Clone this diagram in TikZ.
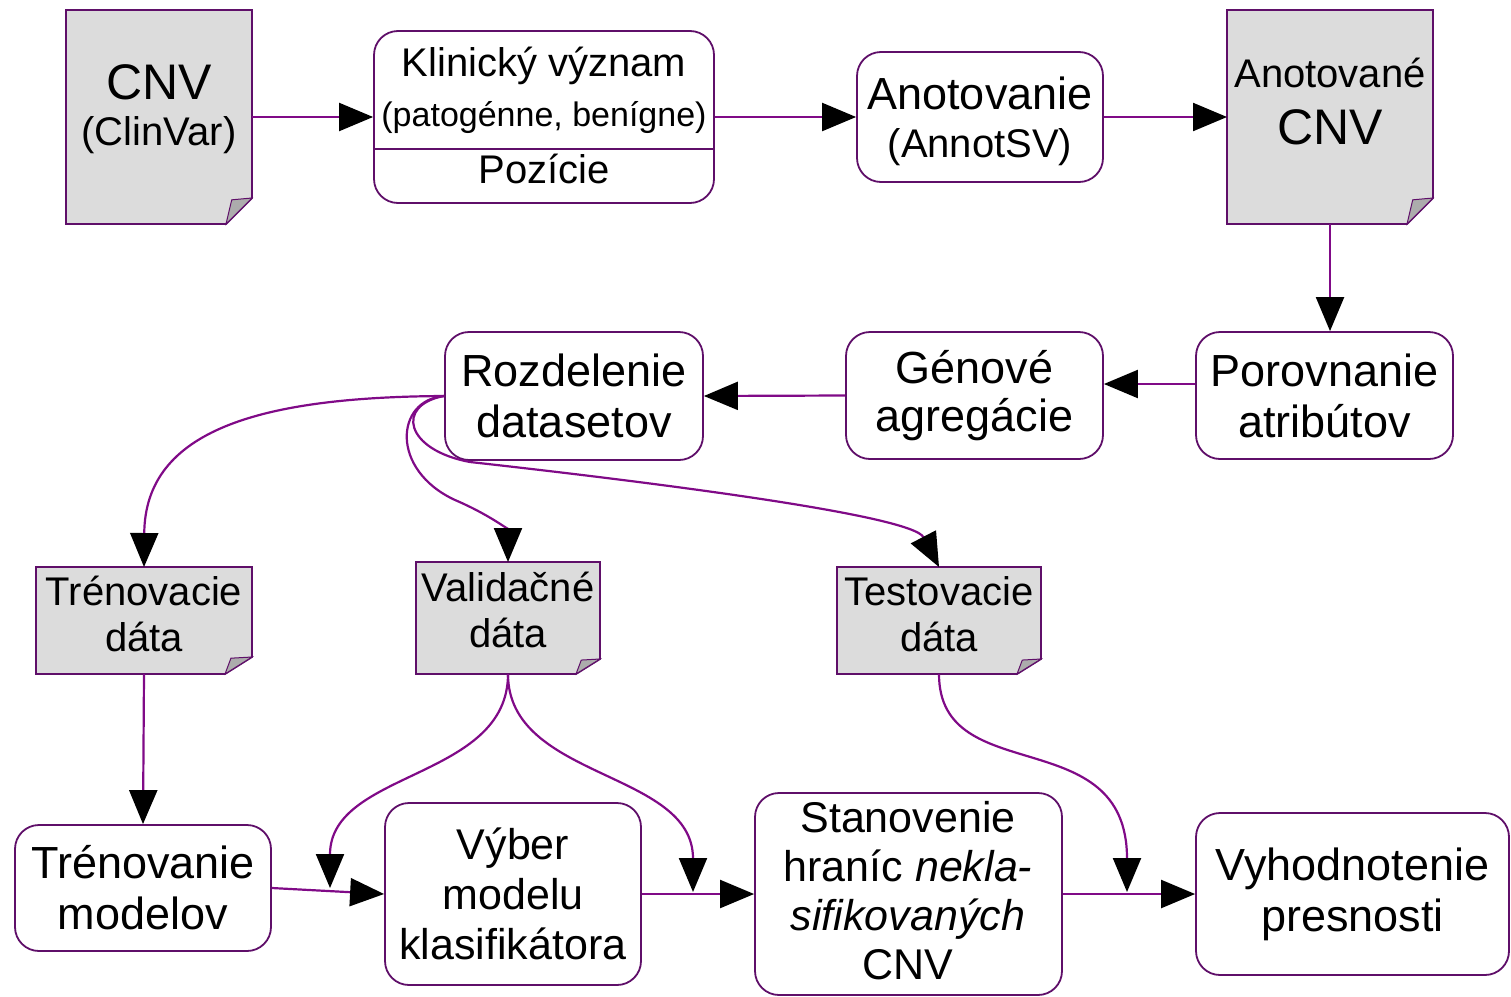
\documentclass[tikz,border=0pt]{standalone}
\usepackage{fontspec}
\setmainfont{Liberation Sans}
\usetikzlibrary{arrows.meta}
\definecolor{edgec}{RGB}{95,15,105}
\definecolor{linec}{RGB}{128,10,135}
\definecolor{docgray}{RGB}{220,220,220}
\definecolor{flapgray}{RGB}{172,172,172}
\tikzset{
  box/.style={draw=edgec, line width=1.8pt, rounded corners=24pt, fill=white, inner sep=0pt},
  area/.style={inner sep=0pt, outer sep=0pt, draw=none},
  big/.style={font=\fontsize{45}{51}\selectfont, align=center, inner sep=0pt},
  med/.style={font=\fontsize{40}{46}\selectfont, align=center, inner sep=0pt},
  huge/.style={font=\fontsize{50}{56}\selectfont, align=center, inner sep=0pt},
  flow/.style={draw=linec, line width=2.2pt, -{Triangle[length=34pt,width=28pt,color=black]}},
  docbody/.style={fill=docgray, draw=edgec, line width=1.8pt},
  flap/.style={fill=flapgray, draw=edgec, line width=1pt},
}
% #1 name, #2 x0, #3 y0, #4 x1, #5 y1, #6 fold width, #7 fold height
\newcommand\docshape[7]{%
  \path[docbody] (#2,#3) -- (#4,#3) -- (#4,{#5-#7}) -- ({#4-#6},#5) -- (#2,#5) -- cycle;
  \path[flap] (#4,{#5-#7}) -- ({#4-0.78*#6},{#5-0.93*#7}) -- ({#4-#6},#5) -- cycle;
  \node[area, minimum width={(#4-#2)*1pt}, minimum height={(#5-#3)*1pt}] (#1) at ({(#2+#4)/2},{(#3+#5)/2}) {};
}
\begin{document}
\begin{tikzpicture}[x=1pt,y=-1pt]
\useasboundingbox (0,0) rectangle (1511,996);

% ---------- top row ----------
\docshape{cnv}{66}{10}{252}{224}{26}{26}
\node[huge] (cnvA) at (159,82) {CNV};
\node[med] (cnvB) at (159,135) {(ClinVar)};

\node[box, minimum width=340pt, minimum height=172pt] (split) at (544,117) {};
\coordinate (divy) at (544,149);
\draw[edgec, line width=1.8pt] (split.west |- divy) -- (split.east |- divy);
\node[med] (klin) at (544,66) {Klinický význam};
\node[font=\fontsize{34}{40}\selectfont, inner sep=0pt] (pato) at (544,118) {(patogénne, benígne)};
\node[med] (pozi) at (544,169) {Pozície};

\node[box, minimum width=246pt, minimum height=130pt] (anot) at (980,117) {};
\node[big] (anotA) at (980,93) {Anotovanie};
\node[med] (anotB) at (980,147) {(AnnotSV)};

\docshape{anotcnv}{1227}{10}{1433}{224}{26}{26}
\node[med] (acA) at (1330,73) {Anotované};
\node[huge] (acB) at (1330,127) {CNV};

% ---------- middle row ----------
\node[box, big, minimum width=257pt, minimum height=127pt] (porov) at (1324.5,395.5) {Porovnanie\\atribútov};
\node[box, big, minimum width=257pt, minimum height=127pt] (gen) at (974.5,395.5) {\raisebox{-3pt}{Génové}\\agregácie};
\node[box, big, minimum width=258pt, minimum height=128pt] (rozd) at (574,396) {Rozdelenie\\datasetov};

% ---------- data documents ----------
\docshape{tren}{36}{567}{252}{674}{27}{17}
\node[med] (trenT) at (144,614) {Trénovacie\\dáta};
\docshape{valid}{416}{562}{600}{674}{24}{15}
\node[med] (validT) at (508,610) {Validačné\\dáta};
\docshape{test}{837}{567}{1041}{674}{24}{15}
\node[med] (testT) at (939,614) {Testovacie\\dáta};

% ---------- bottom row ----------
\node[box, big, minimum width=256pt, minimum height=126pt] (trenm) at (143,888) {Trénovanie\\modelov};
\node[box, font=\fontsize{43}{50}\selectfont, align=center, minimum width=256pt, minimum height=182pt] (vyber) at (513,894) {Výber\\modelu\\klasifikátora};
\node[box, minimum width=307pt, minimum height=202pt] (stan) at (908.5,894) {};
\node[font=\fontsize{43}{49}\selectfont, align=center, inner sep=0pt] (stanT) at (908,891) {Stanovenie\\hraníc \textit{nekla-}\\\textit{sifikovaných}\\CNV};
\node[box, big, minimum width=313pt, minimum height=162pt] (vyh) at (1352.5,894) {Vyhodnotenie\\presnosti};

% ---------- free ends ----------
\coordinate (vl) at (330,888);
\coordinate (vr) at (693,892);
\coordinate (tr) at (1127,892);

% ---------- connectors ----------
\draw[flow] (cnv.east) -- (split.west);
\draw[flow] (split.east) -- (anot.west);
\draw[flow] (anot.east) -- (anotcnv.west);
\draw[flow] (anotcnv.south) -- (anotcnv.south |- porov.north);
\draw[flow] ([yshift=11.5pt]porov.west) -- ([yshift=11.5pt]gen.east);
\draw[flow] (gen.west) -- (rozd.east);

\draw[flow] (rozd.west) .. controls (260,397) and (145,430) .. (tren.north);
\draw[flow] (rozd.west) .. controls (395,400) and (390,470) .. (455,500) .. controls (490,515) and (508,530) .. (valid.north);
\draw[flow] (rozd.west) .. controls (395,405) and (405,450) .. (470,462) .. controls (650,482) and (912,515) .. (test.north);

\draw[flow] (tren.south) -- (trenm.north);
\draw[flow] (valid.south) .. controls (508,780) and (330,770) .. (vl);
\draw[flow] (valid.south) .. controls (508,780) and (693,770) .. (vr);
\draw[flow] (test.south) .. controls (939,790) and (1127,720) .. (tr);

\draw[flow] (trenm.east) -- (vyber.west);
\draw[flow] (vyber.east) -- (stan.west);
\draw[flow] (stan.east) -- (vyh.west);
\end{tikzpicture}
\end{document}
